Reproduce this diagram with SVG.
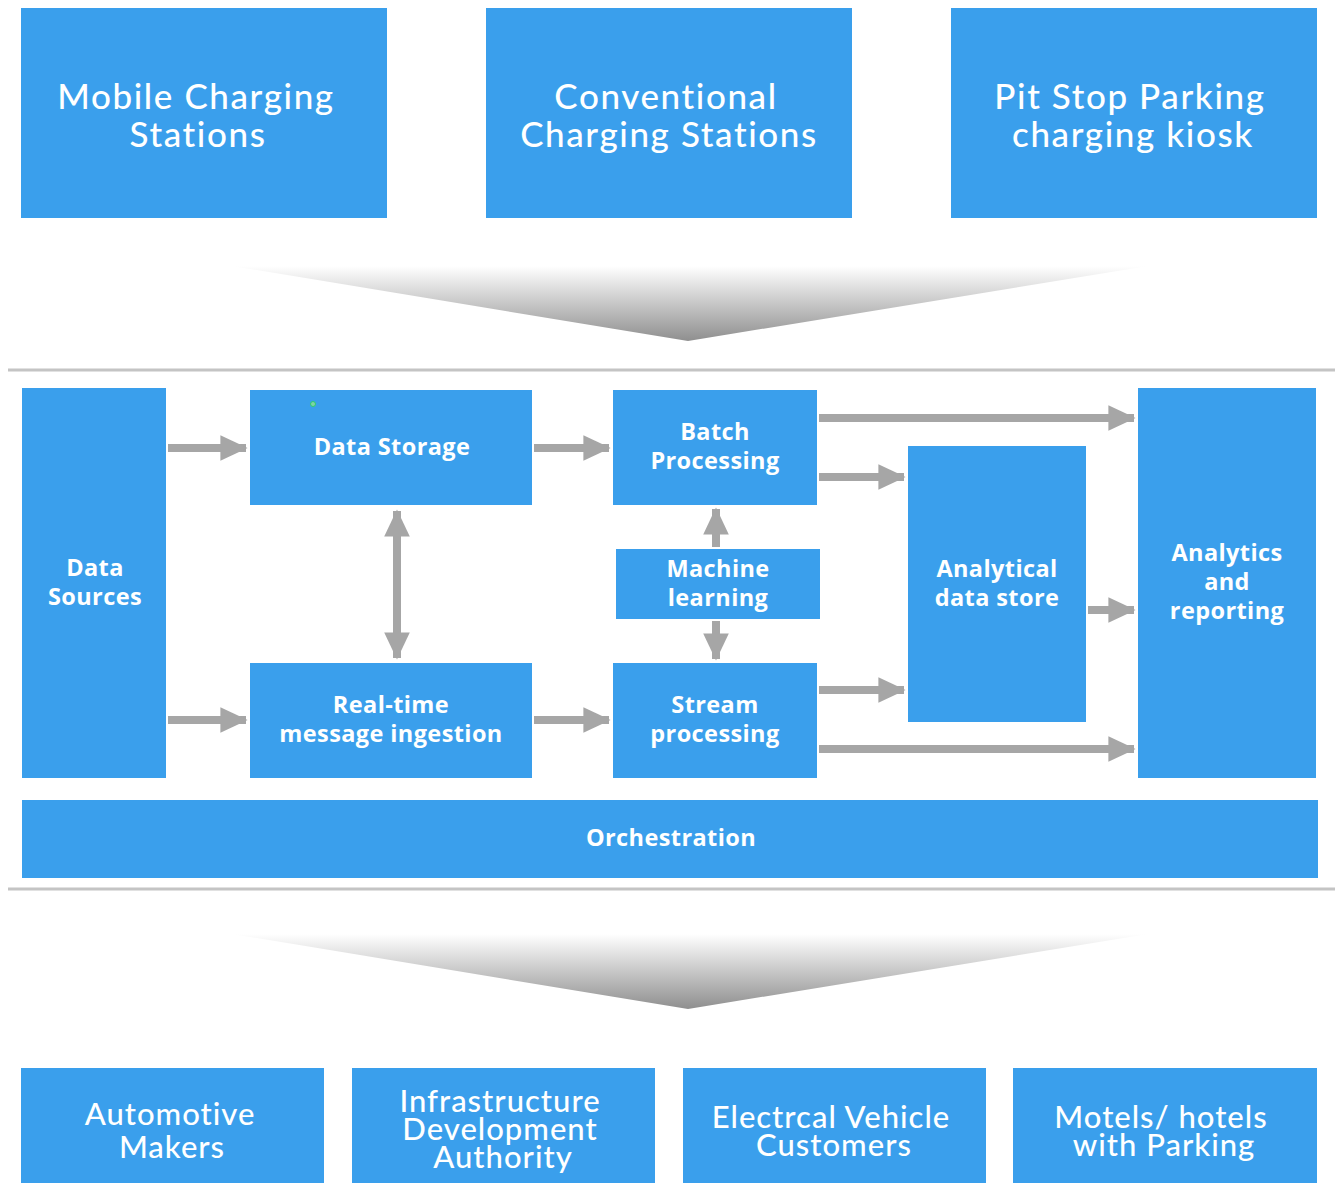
<svg xmlns="http://www.w3.org/2000/svg" width="1342" height="1183" viewBox="0 0 1342 1183">
<defs>
<style>
.box{fill:#3a9fec}
.t1{font-family:Lato,"Open Sans",sans-serif;font-size:35px;letter-spacing:1.6px;fill:#fff;text-anchor:middle;font-weight:500}
.t2{font-family:"Open Sans","Noto Sans",sans-serif;font-size:23.5px;letter-spacing:0.4px;fill:#fff;text-anchor:middle;font-weight:700}
.t3{font-family:Lato,"Open Sans",sans-serif;font-size:31px;letter-spacing:1px;fill:#fff;text-anchor:middle;font-weight:500}
.sep{stroke:#c4c4c4;stroke-width:3}
.arr{stroke:#a6a6a6;stroke-width:8;fill:none}
</style>
<linearGradient id="fun" x1="0" y1="0" x2="0" y2="1">
<stop offset="0" stop-color="#ffffff"/>
<stop offset="1" stop-color="#8f8f8f"/>
</linearGradient>
<marker id="ah" markerWidth="4" markerHeight="4" refX="3.2" refY="2" orient="auto-start-reverse" markerUnits="strokeWidth">
<path d="M0,0.4 L3.4,2 L0,3.6 Z" fill="#a6a6a6"/>
</marker>
</defs>
<rect width="1342" height="1183" fill="#fff"/>

<g id="mobile"><rect class="box" x="21" y="8" width="366" height="210"/><text class="t1" x="196" y="109">Mobile Charging</text><text class="t1" x="198" y="147">Stations</text></g>
<g id="conventional"><rect class="box" x="486" y="8" width="366" height="210"/><text class="t1" x="666" y="109">Conventional</text><text class="t1" x="669" y="147">Charging Stations</text></g>
<g id="pitstop"><rect class="box" x="951" y="8" width="366" height="210"/><text class="t1" x="1130" y="109">Pit Stop Parking</text><text class="t1" x="1133" y="147">charging kiosk</text></g>

<g id="funnel1"><polygon points="232,266 1148,266 688,341" fill="url(#fun)"/></g>
<line class="sep" x1="8" y1="370" x2="1335" y2="370"/>

<g id="datasources"><rect class="box" x="22" y="388" width="144" height="390"/><text class="t2" x="95" y="576">Data</text><text class="t2" x="95" y="605">Sources</text></g>
<g id="datastorage"><rect class="box" x="250" y="390" width="282" height="115"/><text class="t2" x="392" y="455">Data Storage</text><circle cx="313" cy="404" r="2.5" fill="#7fd3a6" stroke="#2ecc71" stroke-width="1"/></g>
<g id="batch"><rect class="box" x="613" y="390" width="204" height="115"/><text class="t2" x="715" y="440">Batch</text><text class="t2" x="715" y="469">Processing</text></g>
<g id="ml"><rect class="box" x="616" y="549" width="204" height="70"/><text class="t2" x="718" y="577">Machine</text><text class="t2" x="718" y="606">learning</text></g>
<g id="realtime"><rect class="box" x="250" y="663" width="282" height="115"/><text class="t2" x="391" y="713">Real-time</text><text class="t2" x="391" y="742">message ingestion</text></g>
<g id="stream"><rect class="box" x="613" y="663" width="204" height="115"/><text class="t2" x="715" y="713">Stream</text><text class="t2" x="715" y="742">processing</text></g>
<g id="analyticalstore"><rect class="box" x="908" y="446" width="178" height="276"/><text class="t2" x="997" y="577">Analytical</text><text class="t2" x="997" y="606">data store</text></g>
<g id="analytics"><rect class="box" x="1138" y="388" width="178" height="390"/><text class="t2" x="1227" y="561">Analytics</text><text class="t2" x="1227" y="590">and</text><text class="t2" x="1227" y="619">reporting</text></g>
<g id="orchestration"><rect class="box" x="22" y="800" width="1296" height="78"/><text class="t2" x="671" y="846">Orchestration</text></g>

<g id="connectors">
<line class="arr" x1="168" y1="448" x2="246" y2="448" marker-end="url(#ah)"/>
<line class="arr" x1="168" y1="720" x2="246" y2="720" marker-end="url(#ah)"/>
<line class="arr" x1="534" y1="448" x2="609" y2="448" marker-end="url(#ah)"/>
<line class="arr" x1="534" y1="720" x2="609" y2="720" marker-end="url(#ah)"/>
<line class="arr" x1="397" y1="511" x2="397" y2="658" marker-start="url(#ah)" marker-end="url(#ah)"/>
<line class="arr" x1="819" y1="418" x2="1134" y2="418" marker-end="url(#ah)"/>
<line class="arr" x1="819" y1="477" x2="904" y2="477" marker-end="url(#ah)"/>
<line class="arr" x1="716" y1="547" x2="716" y2="509" marker-end="url(#ah)"/>
<line class="arr" x1="716" y1="621" x2="716" y2="659" marker-end="url(#ah)"/>
<line class="arr" x1="819" y1="690" x2="904" y2="690" marker-end="url(#ah)"/>
<line class="arr" x1="819" y1="749" x2="1134" y2="749" marker-end="url(#ah)"/>
<line class="arr" x1="1088" y1="610" x2="1134" y2="610" marker-end="url(#ah)"/>
</g>

<line class="sep" x1="8" y1="889" x2="1335" y2="889"/>
<g id="funnel2"><polygon points="232,934 1148,934 688,1009" fill="url(#fun)"/></g>

<g id="automotive"><rect class="box" x="21" y="1068" width="303" height="120"/><text class="t3" x="170" y="1125">Automotive</text><text class="t3" x="172" y="1158">Makers</text></g>
<g id="infrastructure"><rect class="box" x="352" y="1068" width="303" height="120"/><text class="t3" x="500" y="1112">Infrastructure</text><text class="t3" x="500" y="1140">Development</text><text class="t3" x="503" y="1168">Authority</text></g>
<g id="evcustomers"><rect class="box" x="683" y="1068" width="303" height="120"/><text class="t3" x="831" y="1128">Electrcal Vehicle</text><text class="t3" x="834" y="1156">Customers</text></g>
<g id="motels"><rect class="box" x="1013" y="1068" width="304" height="120"/><text class="t3" x="1161" y="1128">Motels/ hotels</text><text class="t3" x="1164" y="1156">with Parking</text></g>
</svg>
